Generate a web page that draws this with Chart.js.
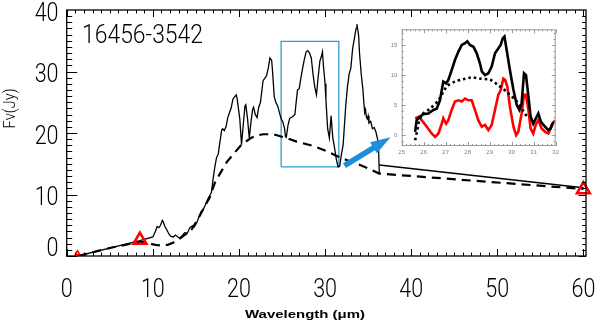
<!DOCTYPE html>
<html><head><meta charset="utf-8">
<script src="https://cdn.jsdelivr.net/npm/chart.js@4.4.1/dist/chart.umd.min.js"></script>
<style>
html,body{margin:0;padding:0;background:#fff;}
#wrap{position:relative;width:596px;height:320px;overflow:hidden;background:#fff;}
#main{position:absolute;left:0;top:0;}
#inset{position:absolute;left:380px;top:20px;}
</style></head><body>
<div id="wrap"><canvas id="main" width="596" height="320"></canvas><canvas id="inset" width="180" height="140"></canvas></div>
<script>
// ---------- main panel data ----------
const specWave = [1.3,8.5,10.0,10.3,10.5,10.7,10.9,11.1,11.2,11.4,11.6,11.9,12.1,12.4,12.6,12.8,13.1,13.4,13.7,14.0,14.3,14.6,14.8,15.1,15.4,15.6,15.8,16.1,16.4,16.6,16.8,17.0,17.2,17.4,17.6,17.8,18.0,18.1,18.3,18.5,18.7,18.9,19.1,19.3,19.5,19.7,19.8,19.9,20.1,20.3,20.5,20.7,20.8,21.0,21.2,21.4,21.6,21.7,21.9,22.1,22.3,22.5,22.8,23.0,23.2,23.4,23.6,23.8,23.9,24.1,24.3,24.5,24.7,24.9,25.1,25.3,25.4,25.5,25.7,25.9,26.2,26.5,26.6,26.8,27.0,27.2,27.4,27.6,27.8,28.0,28.2,28.4,28.6,28.8,29.0,29.2,29.4,29.6,29.7,29.8,30.0,30.1,30.3,30.5,30.7,30.9,31.1,31.3,31.5,31.7,31.9,32.1,32.4,32.6,32.8,33.0,33.2,33.4,33.6,33.7,33.8,33.9,34.0,34.2,34.4,34.5,34.6,34.7,34.8,34.9,35.0,35.1,35.3,35.5,35.7,35.9,36.1,36.2,36.3];
const specFlux = [0.0,2.5,3.1,4.0,4.8,4.6,5.0,5.8,5.6,4.8,4.3,3.5,3.2,3.1,3.4,3.2,2.9,3.3,3.8,3.7,4.6,4.9,4.7,5.4,6.5,7.2,7.4,8.3,9.3,9.8,10.3,12.5,14.5,16.0,16.6,18.6,20.5,20.7,20.4,21.0,22.5,23.3,24.1,25.5,25.9,26.2,25.5,24.4,22.3,18.1,21.3,24.4,24.6,22.3,19.2,21.8,23.9,24.2,23.0,22.5,24.2,25.0,28.5,28.9,29.3,30.5,32.2,31.8,30.1,25.9,24.9,24.4,23.3,22.3,21.8,20.7,19.4,19.3,21.3,22.4,22.6,23.0,24.4,27.0,27.2,29.0,30.6,32.0,33.2,33.4,33.0,32.2,29.6,27.5,26.2,29.1,31.7,32.6,33.2,31.1,28.0,25.4,20.7,19.2,22.8,19.2,17.6,15.8,14.5,14.6,16.5,18.1,24.4,27.5,29.6,30.6,33.7,35.3,37.0,37.7,36.8,35.8,33.0,29.6,27.0,25.0,23.3,23.8,22.6,22.3,22.8,21.6,21.9,20.7,20.9,20.2,19.0,18.1,13.4];
const farWave = [36.3, 60.0];
const farFlux = [14.8, 11.1];
const modelWave = [1.3,5.0,8.5,9.3,10.0,10.6,11.2,11.8,12.4,13.0,13.8,14.5,15.2,16.0,16.6,17.2,17.8,18.6,19.5,20.3,21.4,22.1,22.8,24.0,25.5,26.7,28.6,30.1,31.3,32.5,33.7,35.1,36.3,60.0];
const modelFlux = [0.0,1.3,2.3,2.2,1.9,1.75,1.7,1.85,2.2,2.7,3.5,4.3,5.9,8.0,9.5,11.9,13.4,15.3,16.8,18.1,19.2,19.6,19.8,19.8,19.2,18.6,17.9,17.1,16.3,15.6,15.0,14.2,13.4,10.9];
const photWave = [1.25, 8.5, 60.0];
const photFlux = [0.45, 2.6, 10.8];
const boxWave = [24.9, 31.6];
const boxFlux = [14.5, 34.9];
const arrowWave = [32.25, 37.6];
const arrowFlux = [14.7, 19.3];
const xTickLabels = ['0','10','20','30','40','50','60'];
const yTickLabels = ['0','10','20','30','40'];
const objectName = '16456-3542';

// ---------- inset data ----------
const insetWave = [25.61,25.68,25.83,25.98,26.21,26.44,26.59,26.74,26.89,27.02,27.12,27.27,27.42,27.58,27.73,27.88,27.98,28.10,28.26,28.41,28.56,28.64,28.79,28.94,29.09,29.24,29.39,29.50,29.59,29.67,29.77,29.92,30.08,30.23,30.35,30.45,30.56,30.65,30.76,30.86,30.98,31.14,31.21,31.33,31.52,31.67,31.77,31.89];
const insetFlux = [0.56,2.5,3.06,3.5,3.6,4.2,4.4,5.8,8.9,8.6,9.2,10.8,12.5,13.9,15.0,15.3,15.6,15.0,14.7,13.6,11.9,10.6,10.0,10.3,11.4,13.6,14.4,15.0,16.1,16.4,14.2,10.8,7.5,5.0,4.2,5.3,10.3,10.0,6.4,3.1,1.9,3.1,3.6,2.2,1.4,0.83,1.1,2.2];
const residWave = [25.61,25.76,25.91,26.14,26.36,26.52,26.67,26.82,26.89,27.02,27.12,27.27,27.42,27.58,27.73,27.88,28.03,28.18,28.33,28.48,28.64,28.79,28.94,29.09,29.24,29.39,29.50,29.62,29.70,29.80,29.92,30.08,30.20,30.30,30.45,30.56,30.65,30.76,30.86,30.98,31.11,31.21,31.36,31.52,31.67,31.82,31.97];
const residFlux = [2.8,3.06,2.5,1.4,0.28,-0.28,0.28,1.9,2.8,1.9,2.5,4.2,5.6,5.8,5.6,6.1,5.8,5.8,4.2,2.5,1.4,1.7,0.83,1.7,4.2,6.7,7.5,9.4,9.2,8.1,4.7,1.4,0.0,0.56,3.6,6.7,6.7,4.2,1.1,0.28,1.9,2.5,1.1,0.56,0.28,1.7,2.5];
const contWave = [25.61,25.71,25.80,25.98,26.29,26.67,27.05,27.42,27.80,28.18,28.56,29.02,29.39,29.77,30.23,30.60,30.75];
const contFlux = [-0.83,0.83,2.5,3.6,4.4,5.8,8.1,8.9,9.3,9.6,9.4,9.2,8.3,7.2,5.6,3.6,2.9];
const insetXTickLabels = ['25','26','27','28','29','30','31','32'];
const insetYTickLabels = ['0','5','10','15'];

// ---------- helpers ----------
const FONT = "Roboto, 'Liberation Sans', sans-serif";
function pts(xs, ys){ return xs.map((x,i)=>({x:x, y:ys[i]})); }
function drawText(ctx, s, x, y, o){
  ctx.save();
  ctx.font = o.font; ctx.fillStyle = o.color || '#000';
  ctx.textBaseline = o.baseline || 'alphabetic'; ctx.textAlign = 'left';
  const w = ctx.measureText(s).width;
  const sx = o.width ? o.width / w : (o.sx || 1);
  const tw = w * sx;
  let x0 = x;
  if (o.align === 'center') x0 = x - tw/2; else if (o.align === 'right') x0 = x - tw;
  ctx.translate(x0, y); ctx.scale(sx, 1); ctx.fillText(s, 0, 0);
  ctx.restore();
}

const mainDecor = {
  id: 'mainDecor',
  afterDatasetsDraw(chart){
    const {ctx, chartArea: a, scales: {x, y}} = chart;
    ctx.save();
    ctx.strokeStyle = '#000'; ctx.lineWidth = 1.3;
    ctx.strokeRect(a.left, a.top, a.right - a.left, a.bottom - a.top);
    ctx.lineWidth = 1;
    ctx.beginPath();
    const xMaj = xTickLabels.map(Number);
    for (let i = 0; i < xMaj.length - 1; i++){
      for (let k = 0; k < 10; k++){
        const v = xMaj[i] + (xMaj[i+1]-xMaj[i]) * k / 10;
        const px = Math.round(x.getPixelForValue(v)) + 0.5;
        const L = k === 0 ? 7 : 3.5;
        ctx.moveTo(px, a.bottom); ctx.lineTo(px, a.bottom - L);
        ctx.moveTo(px, a.top); ctx.lineTo(px, a.top + L);
      }
    }
    { const px = Math.round(x.getPixelForValue(xMaj[xMaj.length-1])) + 0.5;
      ctx.moveTo(px, a.bottom); ctx.lineTo(px, a.bottom - 7);
      ctx.moveTo(px, a.top); ctx.lineTo(px, a.top + 7); }
    const yMaj = yTickLabels.map(Number);
    for (let i = 0; i < yMaj.length - 1; i++){
      for (let k = 0; k < 10; k++){
        const v = yMaj[i] + (yMaj[i+1]-yMaj[i]) * k / 10;
        const py = Math.round(y.getPixelForValue(v)) + 0.5;
        const L = k === 0 ? 10.5 : 5.5;
        ctx.moveTo(a.left, py); ctx.lineTo(a.left + L, py);
        ctx.moveTo(a.right, py); ctx.lineTo(a.right - L * 0.7, py);
      }
    }
    ctx.stroke();
    const x0 = x.getPixelForValue(arrowWave[0]), y0 = y.getPixelForValue(arrowFlux[0]);
    const x1 = x.getPixelForValue(arrowWave[1]), y1 = y.getPixelForValue(arrowFlux[1]);
    const dx = x1 - x0, dy = y1 - y0, len = Math.hypot(dx, dy);
    const ux = dx/len, uy = dy/len, nx = -uy, ny = ux;
    const HL = 20, HW = 6.5, SW = 2.8;
    const bx = x1 - ux*HL, by = y1 - uy*HL;
    ctx.fillStyle = '#1b8fdc';
    ctx.beginPath();
    ctx.moveTo(x0 + nx*SW, y0 + ny*SW);
    ctx.lineTo(bx + nx*SW, by + ny*SW);
    ctx.lineTo(bx + nx*HW, by + ny*HW);
    ctx.lineTo(x1, y1);
    ctx.lineTo(bx - nx*HW, by - ny*HW);
    ctx.lineTo(bx - nx*SW, by - ny*SW);
    ctx.lineTo(x0 - nx*SW, y0 - ny*SW);
    ctx.closePath(); ctx.fill();
    ctx.restore();
  },
  afterDraw(chart){
    const {ctx, scales: {x, y}} = chart;
    const tf = "300 25px " + FONT;
    xTickLabels.forEach(t => {
      drawText(ctx, t, x.getPixelForValue(Number(t)), 296.5, {font: tf, align: 'center', sx: 0.86});
    });
    yTickLabels.forEach(t => {
      const py = y.getPixelForValue(Number(t));
      const base = Math.min(Math.max(py + 10.5, 20.5), 256);
      drawText(ctx, t, 58.5, base, {font: tf, align: 'right', sx: 0.86});
    });
    drawText(ctx, objectName, 82, 43, {font: "300 25px " + FONT, width: 121});
    ctx.save();
    ctx.translate(15, 108.5); ctx.rotate(-Math.PI/2);
    ctx.font = "300 16px " + FONT; ctx.fillStyle = '#000';
    ctx.textAlign = 'center'; ctx.textBaseline = 'alphabetic';
    const s = 'F\u03bd(Jy)';
    const w = ctx.measureText(s).width; const sc = 40 / w;
    ctx.scale(sc, 1); ctx.fillText(s, 0, 0);
    ctx.restore();
    drawText(ctx, 'Wavelength (\u03bcm)', 305, 318, {font: "bold 11px 'Liberation Sans', Arial, sans-serif", align: 'center', width: 120});
  }
};

new Chart(document.getElementById('main'), {
  type: 'scatter',
  data: { datasets: [
    { data: pts(photWave, photFlux), showLine: false, pointStyle: 'triangle',
      pointRadius: [2.5, 7.5, 7.5], pointBorderWidth: [1.5, 2.5, 2.5],
      pointBorderColor: '#ff0000', pointBackgroundColor: 'rgba(255,255,255,0)', clip: false },
    { data: pts(specWave, specFlux), showLine: true, borderColor: '#000', borderWidth: 1.3, pointRadius: 0, tension: 0 },
    { data: pts(farWave, farFlux), showLine: true, borderColor: '#000', borderWidth: 1.5, pointRadius: 0, tension: 0 },
    { data: pts(modelWave, modelFlux), showLine: true, borderColor: '#000', borderWidth: 2.2, borderDash: [9, 6], pointRadius: 0, tension: 0 },
    { data: pts([boxWave[0], boxWave[0], boxWave[1], boxWave[1], boxWave[0]], [boxFlux[0], boxFlux[1], boxFlux[1], boxFlux[0], boxFlux[0]]),
      showLine: true, borderColor: '#2e9bd6', borderWidth: 1.3, pointRadius: 0, tension: 0 }
  ]},
  options: {
    responsive: false, animation: false, devicePixelRatio: 1,
    layout: { padding: { top: 1.5, right: 8.7, left: 0, bottom: 0 } },
    plugins: { legend: { display: false }, tooltip: { enabled: false } },
    scales: {
      x: { type: 'linear', min: 0, max: 60.3, grid: { display: false, drawTicks: false }, border: { display: false },
           ticks: { display: false }, afterFit(s){ s.height = 64; } },
      y: { type: 'linear', min: 0, max: 40, grid: { display: false, drawTicks: false }, border: { display: false },
           ticks: { display: false }, afterFit(s){ s.width = 66.7; } }
    }
  },
  plugins: [mainDecor]
});

const insetDecor = {
  id: 'insetDecor',
  afterDatasetsDraw(chart){
    const {ctx, chartArea: a, scales: {x, y}} = chart;
    ctx.save();
    ctx.strokeStyle = '#9a9a9a'; ctx.lineWidth = 1;
    ctx.strokeRect(a.left + 0.5, a.top + 0.5, a.right - a.left - 1, a.bottom - a.top - 1);
    ctx.beginPath();
    const xs = insetXTickLabels.map(Number);
    for (let i = 0; i < xs.length; i++){
      for (let k = 0; k < 5; k++){
        if (i === xs.length - 1 && k > 0) break;
        const v = xs[i] + k * 0.2;
        const px = Math.round(x.getPixelForValue(v)) + 0.5;
        const L = k === 0 ? 4 : 2;
        ctx.moveTo(px, a.bottom); ctx.lineTo(px, a.bottom - L);
        ctx.moveTo(px, a.top); ctx.lineTo(px, a.top + L);
      }
    }
    for (let v = Math.ceil(y.min); v <= y.max; v++){
      const py = Math.round(y.getPixelForValue(v)) + 0.5;
      const L = (v % 5 === 0) ? 4 : 2;
      ctx.moveTo(a.left, py); ctx.lineTo(a.left + L, py);
      ctx.moveTo(a.right, py); ctx.lineTo(a.right - L, py);
    }
    ctx.stroke();
    ctx.restore();
    const f = "6px 'Liberation Sans', Arial, sans-serif";
    insetXTickLabels.forEach(t => drawText(ctx, t, x.getPixelForValue(Number(t)), 134, {font: f, align: 'center', color: '#808080'}));
    insetYTickLabels.forEach(t => drawText(ctx, t, 17.3, y.getPixelForValue(Number(t)) + 2, {font: f, align: 'right', color: '#808080'}));
  }
};

new Chart(document.getElementById('inset'), {
  type: 'scatter',
  data: { datasets: [
    { data: pts(contWave, contFlux), showLine: true, borderColor: '#000', borderWidth: 2.6, borderDash: [2.5, 3], pointRadius: 0, tension: 0.3 },
    { data: pts(insetWave, insetFlux), showLine: true, borderColor: '#000', borderWidth: 2.6, pointRadius: 0, tension: 0 },
    { data: pts(residWave, residFlux), showLine: true, borderColor: '#ff0000', borderWidth: 2.6, pointRadius: 0, tension: 0 }
  ]},
  options: {
    responsive: false, animation: false, devicePixelRatio: 1,
    layout: { padding: { top: 9.3, right: 4.3, left: 0, bottom: 0 } },
    plugins: { legend: { display: false }, tooltip: { enabled: false } },
    scales: {
      x: { type: 'linear', min: 25, max: 32, grid: { display: false, drawTicks: false }, border: { display: false },
           ticks: { display: false }, afterFit(s){ s.height = 14; } },
      y: { type: 'linear', min: -1.8, max: 17.6, grid: { display: false, drawTicks: false }, border: { display: false },
           ticks: { display: false }, afterFit(s){ s.width = 21.7; } }
    }
  },
  plugins: [insetDecor]
});
</script>
</body></html>
